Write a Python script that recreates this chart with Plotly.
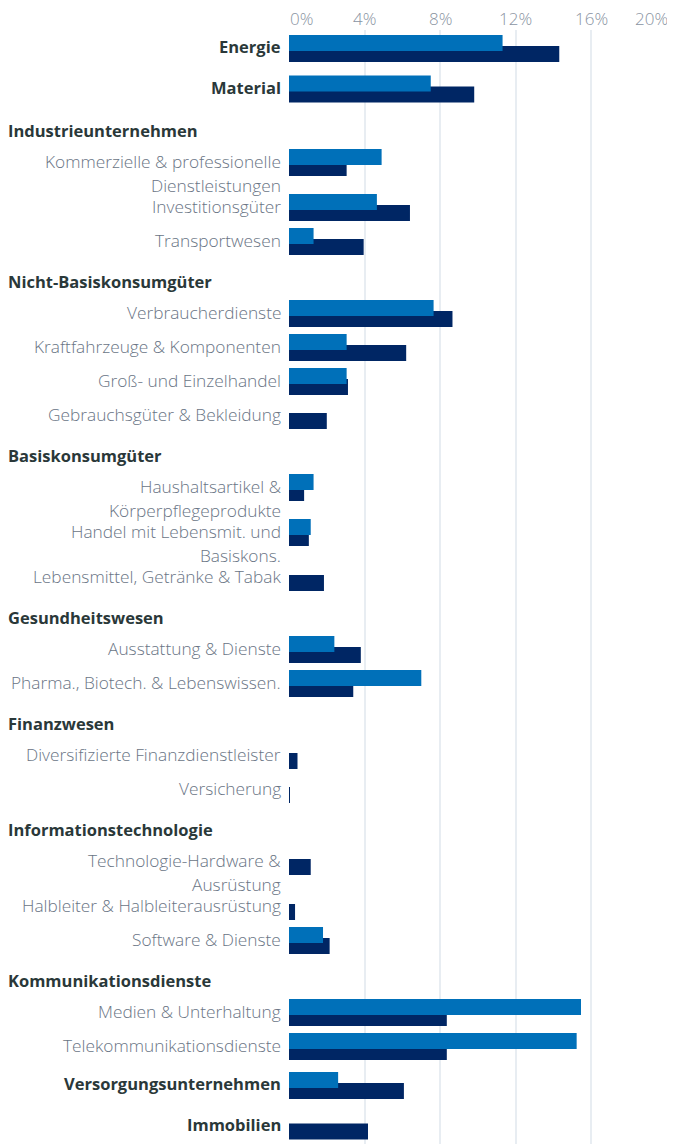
import plotly.graph_objects as go

# ---------------- data ----------------
labels = [
    "Energie", "Material",
    "Industrieunternehmen",
    "Kommerzielle & professionelle<br>Dienstleistungen", "Investitionsgüter", "Transportwesen",
    "Nicht-Basiskonsumgüter",
    "Verbraucherdienste", "Kraftfahrzeuge & Komponenten", "Groß- und Einzelhandel",
    "Gebrauchsgüter & Bekleidung",
    "Basiskonsumgüter",
    "Haushaltsartikel &<br>Körperpflegeprodukte", "Handel mit Lebensmit. und<br>Basiskons.",
    "Lebensmittel, Getränke & Tabak",
    "Gesundheitswesen",
    "Ausstattung & Dienste", "Pharma., Biotech. & Lebenswissen.",
    "Finanzwesen",
    "Diversifizierte Finanzdienstleister", "Versicherung",
    "Informationstechnologie",
    "Technologie-Hardware &<br>Ausrüstung", "Halbleiter & Halbleiterausrüstung", "Software & Dienste",
    "Kommunikationsdienste",
    "Medien & Unterhaltung", "Telekommunikationsdienste",
    "Versorgungsunternehmen", "Immobilien",
]
kinds = [
    "main", "main",
    "head", "sub", "sub", "sub",
    "head", "sub", "sub", "sub", "sub",
    "head", "sub", "sub", "sub",
    "head", "sub", "sub",
    "head", "sub", "sub",
    "head", "sub", "sub", "sub",
    "head", "sub", "sub",
    "main", "main",
]
fund = [11.3, 7.5, None, 4.9, 4.65, 1.3, None, 7.65, 3.05, 3.05, 0, None, 1.3, 1.15, 0,
        None, 2.4, 7.0, None, 0, 0, None, 0, 0, 1.8, None, 15.45, 15.22, 2.6, 0]
bench = [14.3, 9.8, None, 3.05, 6.4, 3.95, None, 8.65, 6.2, 3.12, 2.0, None, 0.8, 1.05, 1.85,
         None, 3.8, 3.4, None, 0.45, 0.02, None, 1.15, 0.32, 2.15, None, 8.35, 8.35, 6.08, 4.18]
tick_vals = [0, 4, 8, 12, 16, 20]
tick_text = ["0%", "4%", "8%", "12%", "16%", "20%"]

# ---------------- layout helpers ----------------
PAGE_OFF = 8                  # default body margin of the html page
W, H = 675 - PAGE_OFF, 1144 - PAGE_OFF
ML, MR = 289 - PAGE_OFF, 8
MT = 30 - PAGE_OFF
Y_TOP, Y_BOT = 30, 1144       # y data units == page pixels
# row height and label-centre offset per row kind (pixels)
row_geom = {"main": (40.5, 22), "sub": (34, 17), "sub2": (45, 17), "head": (38, 22.5)}

centers = []
top = 26.5
for lab, k in zip(labels, kinds):
    kk = "sub2" if (k == "sub" and "<br>" in lab) else k
    h, off = row_geom[kk]
    centers.append(top + off)
    top += h

LIGHT = "#0070b9"
NAVY = "#002664"
GRAY = "#6a7585"
DARK = "#2a3839"
FONT = "Open Sans"

fig = go.Figure()
fig.add_trace(go.Bar(
    name="Benchmark", orientation="h", y=centers, x=bench,
    width=16, offset=-2.5, marker=dict(color=NAVY, line=dict(width=0)),
))
fig.add_trace(go.Bar(
    name="Fonds", orientation="h", y=centers, x=fund,
    width=16, offset=-13.5, marker=dict(color=LIGHT, line=dict(width=0)),
))

annotations = []
for lab, k, c in zip(labels, kinds, centers):
    if k == "head":
        annotations.append(dict(
            text=f"<b>{lab}</b>", xref="paper", x=0, xanchor="left", xshift=-ML - 2,
            yref="y", y=c, yanchor="middle", showarrow=False,
            font=dict(family=FONT, size=16.5, color=DARK)))
    elif k == "main":
        annotations.append(dict(
            text=f"<b>{lab}</b>", xref="paper", x=0, xanchor="right", xshift=-6,
            yref="y", y=c - 2, yanchor="middle", showarrow=False,
            font=dict(family=FONT, size=16.5, color=DARK)))
    else:
        for i, line in enumerate(lab.split("<br>")):
            annotations.append(dict(
                text=line, xref="paper", x=0, xanchor="right", xshift=-6,
                yref="y", y=c - 1, yanchor="middle", yshift=-24 * i, showarrow=False,
                font=dict(family=FONT, size=17.3, color=GRAY, weight=300)))

for i, (tv, tt) in enumerate(zip(tick_vals, tick_text)):
    anchor = "left" if i == 0 else ("right" if i == len(tick_vals) - 1 else "center")
    annotations.append(dict(
        text=tt, xref="x", x=tv, xanchor=anchor, xshift=(3 if anchor == "right" else -1 if anchor == "left" else 0),
        yref="paper", y=1, yanchor="middle", yshift=12, showarrow=False,
        font=dict(family=FONT, size=17, color="#8a94a2", weight=300)))

fig.update_layout(
    width=W, height=H,
    margin=dict(l=ML, r=MR, t=MT, b=0, pad=0),
    paper_bgcolor="white", plot_bgcolor="white",
    barmode="overlay", showlegend=False,
    annotations=annotations,
    xaxis=dict(range=[0, 20], tickvals=tick_vals, showticklabels=False, side="top",
               showgrid=True, gridcolor="#e8edf2", gridwidth=1.5,
               zeroline=False, showline=False, fixedrange=True),
    yaxis=dict(range=[Y_BOT, Y_TOP], visible=False, showgrid=False, zeroline=False,
               fixedrange=True),
)

fig.write_html("out.html")
